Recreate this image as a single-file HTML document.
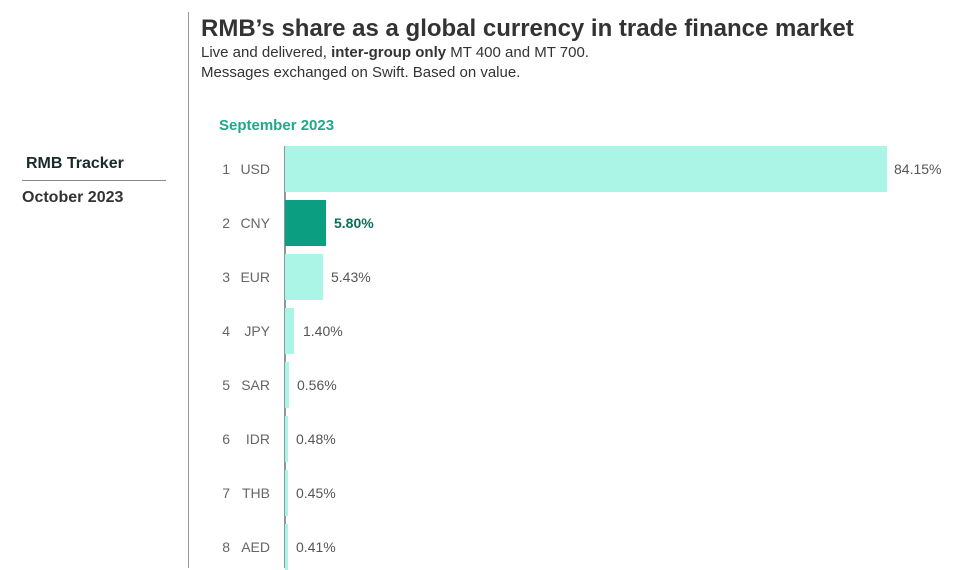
<!DOCTYPE html>
<html><head><meta charset="utf-8"><style>
body{margin:0;width:974px;height:568px;background:#fff;overflow:hidden;position:relative;font-family:"Liberation Sans",sans-serif;color:#333}
.a{position:absolute;white-space:nowrap}
.bar{position:absolute;left:285px;height:46px;background:#abf5e6}
.n{position:absolute;width:20px;text-align:right;left:210px;font-size:14px;color:#666}
.c{position:absolute;width:40px;text-align:right;left:230px;font-size:14px;color:#666}
.v{position:absolute;font-size:14px;color:#555}
</style></head><body>
<div class="a" style="left:188px;top:12px;width:1px;height:556px;background:#999"></div>
<div class="a" style="left:26px;top:155px;font-size:16px;font-weight:bold;color:#1a2a2a">RMB Tracker</div>
<div class="a" style="left:22px;top:180px;width:144px;height:1px;background:#888"></div>
<div class="a" style="left:22px;top:189px;font-size:16px;font-weight:bold;color:#333">October 2023</div>
<div class="a" style="left:201px;top:15px;font-size:24px;font-weight:bold;color:#333">RMB’s share as a global currency in trade finance market</div>
<div class="a" style="left:201px;top:44px;font-size:15px;color:#333">Live and delivered, <b>inter-group only</b> MT 400 and MT 700.</div>
<div class="a" style="left:201px;top:64px;font-size:15px;color:#333">Messages exchanged on Swift. Based on value.</div>
<div class="a" style="left:219px;top:117px;font-size:15px;font-weight:bold;color:#1fa88a">September 2023</div>
<div class="a" style="left:284px;top:146px;width:1.5px;height:422px;background:#8a9a9a"></div>

<div class="bar" style="top:146px;width:602px"></div>
<div class="bar" style="top:200px;width:41px;background:#0c9e80"></div>
<div class="bar" style="top:254px;width:38px"></div>
<div class="bar" style="top:308px;width:9px"></div>
<div class="bar" style="top:362px;width:4px"></div>
<div class="bar" style="top:416px;width:3px"></div>
<div class="bar" style="top:470px;width:3px"></div>
<div class="bar" style="top:524px;width:3px"></div>

<div class="n" style="top:161px">1</div><div class="c" style="top:161px">USD</div><div class="v" style="left:894px;top:161px">84.15%</div>
<div class="n" style="top:215px">2</div><div class="c" style="top:215px">CNY</div><div class="v" style="left:334px;top:215px;font-weight:bold;color:#0a6e5a">5.80%</div>
<div class="n" style="top:269px">3</div><div class="c" style="top:269px">EUR</div><div class="v" style="left:331px;top:269px">5.43%</div>
<div class="n" style="top:323px">4</div><div class="c" style="top:323px">JPY</div><div class="v" style="left:303px;top:323px">1.40%</div>
<div class="n" style="top:377px">5</div><div class="c" style="top:377px">SAR</div><div class="v" style="left:297px;top:377px">0.56%</div>
<div class="n" style="top:431px">6</div><div class="c" style="top:431px">IDR</div><div class="v" style="left:296px;top:431px">0.48%</div>
<div class="n" style="top:485px">7</div><div class="c" style="top:485px">THB</div><div class="v" style="left:296px;top:485px">0.45%</div>
<div class="n" style="top:539px">8</div><div class="c" style="top:539px">AED</div><div class="v" style="left:296px;top:539px">0.41%</div>
</body></html>
